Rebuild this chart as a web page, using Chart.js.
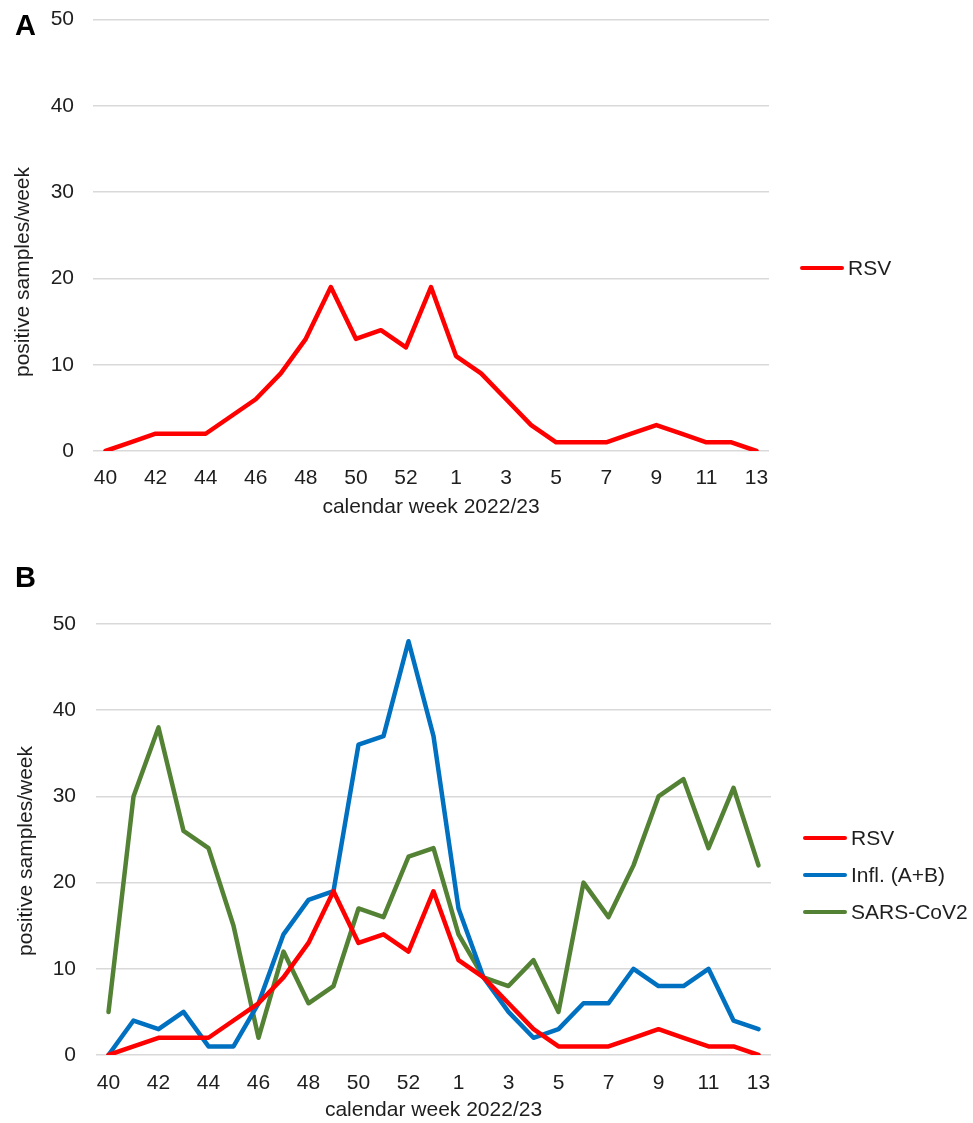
<!DOCTYPE html>
<html>
<head>
<meta charset="utf-8">
<script src="https://cdn.jsdelivr.net/npm/chart.js@4"></script>
<style>
  body { margin: 0; background: #fff; width: 973px; height: 1123px; overflow: hidden; position: relative;
         font-family: "Liberation Sans", Arial, sans-serif; color: #1e1e1e; }
  .panel { position: absolute; left: 0; width: 973px; }
  .letter { position: absolute; left: 15px; font-size: 29px; line-height: 29px; font-weight: bold; color: #000; z-index: 2; }
  .ytitle { position: absolute; font-size: 21px; line-height: 24px; white-space: nowrap;
            transform: translate(-50%, -50%) rotate(-90deg); }
  .legend { position: absolute; font-size: 21px; white-space: nowrap; }
  .legend div { display: flex; align-items: center; height: 24px; }
  .legend span.sw { display: inline-block; width: 44px; height: 4px; border-radius: 2px; margin-right: 4px; }
</style>
</head>
<body>
<div class="panel" style="top:-12px;height:542px"><canvas id="chartA"></canvas></div>
<div class="panel" style="top:560px;height:563px"><canvas id="chartB"></canvas></div>

<div class="letter" style="top:11px">A</div>
<div class="letter" style="top:563px">B</div>

<div class="ytitle" style="left:22px;top:272px">positive samples/week</div>
<div class="ytitle" style="left:25px;top:851px">positive samples/week</div>

<div class="legend" style="left:800px;top:256px">
  <div><span class="sw" style="background:#ff0000"></span>RSV</div>
</div>
<div class="legend" style="left:803px;top:826px">
  <div style="margin-bottom:13px"><span class="sw" style="background:#ff0000"></span>RSV</div>
  <div style="margin-bottom:13px"><span class="sw" style="background:#0070c0"></span>Infl. (A+B)</div>
  <div><span class="sw" style="background:#548235"></span>SARS-CoV2</div>
</div>

<script>
// calendar weeks 40/2022 .. 13/2023 (the source counts a week 53)
const weeks = ['40','41','42','43','44','45','46','47','48','49','50','51','52','53',
               '1','2','3','4','5','6','7','8','9','10','11','12','13'];
const rsv   = [0,1,2,2,2,4,6,9,13,19,13,14,12,19,11,9,6,3,1,1,1,2,3,2,1,1,0];
const infl  = [0,4,3,5,1,1,6,14,18,19,36,37,48,37,17,9,5,2,3,6,6,10,8,8,10,4,3];
const sars  = [5,30,38,26,24,15,2,12,6,8,17,16,23,24,14,9,8,11,5,20,16,22,30,32,24,31,22];
const yTicks = [0, 10, 20, 30, 40, 50];

Chart.defaults.font.family = '"Liberation Sans", Arial, sans-serif';
Chart.defaults.font.size = 21;
Chart.defaults.color = '#1e1e1e';

function line(label, data, color) {
    return {
        label: label,
        data: data,
        borderColor: color,
        backgroundColor: color,
        borderWidth: 4.5,
        pointRadius: 0,
        tension: 0,
        borderJoinStyle: 'round',
        borderCapStyle: 'round'
    };
}

function makeChart(id, datasets, lay) {
    const ctx = document.getElementById(id).getContext('2d');
    return new Chart(ctx, {
        type: 'line',
        data: { labels: weeks, datasets: datasets },
        options: {
            responsive: true,
            maintainAspectRatio: false,
            animation: false,
            layout: { padding: { left: 0, right: lay.right, top: lay.top, bottom: 0 } },
            plugins: { legend: { display: false }, tooltip: { enabled: false } },
            scales: {
                x: {
                    offset: true,
                    grid: { display: false },
                    border: { display: false },
                    ticks: {
                        autoSkip: false,
                        maxRotation: 0,
                        padding: lay.xPad,
                        callback: function (v, i) { return i % 2 === 0 ? this.getLabelForValue(v) : ''; }
                    },
                    title: { display: true, text: 'calendar week 2022/23', padding: { top: 0, bottom: lay.titlePad } },
                    afterFit: (s) => { s.height = lay.xHeight; }
                },
                y: {
                    min: 0,
                    max: 50,
                    afterBuildTicks: (s) => { s.ticks = yTicks.map(v => ({ value: v })); },
                    grid: { color: '#d9d9d9', lineWidth: 1.5, drawTicks: false },
                    border: { display: false },
                    ticks: { padding: lay.yPad },
                    afterFit: (s) => { s.width = lay.yWidth; }
                }
            }
        }
    });
}

makeChart('chartA', [line('RSV', rsv, '#ff0000')],
    { right: 204, top: 0, xPad: 7, titlePad: 10, xHeight: 79, yPad: 19, yWidth: 93 });

makeChart('chartB', [
    line('RSV', rsv, '#ff0000'),
    line('Infl. (A+B)', infl, '#0070c0'),
    line('SARS-CoV2', sars, '#548235')
], { right: 202, top: 64, xPad: 8, titlePad: 0, xHeight: 68, yPad: 20, yWidth: 96 });
</script>
</body>
</html>
